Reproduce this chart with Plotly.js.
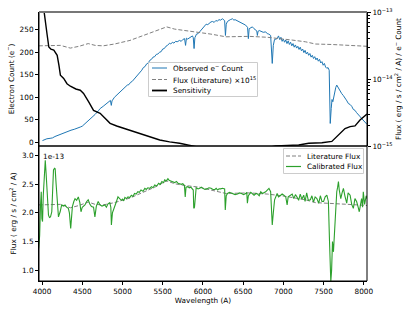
<!DOCTYPE html>
<html>
<head>
<meta charset="utf-8">
<script src="https://cdn.plot.ly/plotly-3.0.1.min.js"></script>
<style>html,body{margin:0;padding:0;background:#fff;}#chart{width:415px;height:312px;}</style>
</head>
<body>
<div id="chart"></div>
<script>
// ---------------- data ----------------
const obsWave = [4005,4030,4060,4100,4130,4160,4200,4250,4300,4340,4360,4400,4440,4475,4500,4540,4580,4620,4660,4700,4722,4760,4800,4830,4850,4861,4870,4900,4940,4969,5000,5020,5040,5060,5080,5100,5120,5140,5160,5180,5200,5220,5240,5260,5280,5300,5320,5340,5360,5380,5400,5420,5440,5463,5480,5500,5520,5540,5560,5586,5600,5620,5640,5660,5680,5710,5730,5750,5772,5784,5795,5810,5830,5850,5870,5880,5890,5900,5920,5940,5957,5980,6000,6020,6040,6060,6080,6100,6120,6140,6160,6180,6200,6220,6242,6260,6270,6280,6290,6305,6320,6340,6368,6385,6400,6420,6440,6465,6491,6510,6530,6555,6565,6575,6595,6615,6635,6650,6670,6677,6685,6700,6720,6750,6780,6800,6820,6842,6862,6875,6890,6923,6940,6955,6970,6985,7000,7015,7030,7045,7060,7075,7090,7105,7120,7135,7150,7165,7180,7195,7210,7225,7240,7255,7270,7285,7300,7315,7330,7345,7360,7375,7390,7405,7420,7435,7450,7465,7480,7495,7510,7525,7541,7555,7570,7583,7595,7605,7615,7625,7640,7652,7664,7678,7690,7705,7726,7745,7760,7775,7790,7809,7830,7850,7870,7891,7910,7930,7950,7973,7990,8005,8020,8040];
const obsCount = [4,6,8,9,10,13,16,20,24,26,27,29,31,34,36,42,50,56,62,70,75,80,86,90,93,82,92,100,107,112,118,121,123,127,128,133,135,139,143,148,151,157,160,166,168,174,176,182,184,189,190,195,196,200,201,207,208,213,215,220,218,222,220,224,223,226,224,228,230,215,231,229,232,233,236,232,208,232,240,241,245,250,255,258,262,261,265,267,268,266,270,269,272,271,274,272,270,237,262,268,270,272,274,271,272,270,268,266,263,262,260,255,230,252,255,256,252,250,247,237,246,248,246,244,245,241,240,237,175,215,228,230,236,228,233,224,229,222,227,219,225,217,222,214,219,211,216,209,213,206,211,203,207,199,204,196,200,193,197,189,193,186,190,183,187,180,184,176,179,171,175,167,164,166,160,42,75,95,90,100,115,122,127,122,120,112,108,104,98,96,92,86,84,80,73,71,66,63,58,53,49,46,42,40];

const litWave = [3960,4006,4100,4228,4352,4460,4574,4660,4759,4900,5093,5250,5401,5549,5650,5772,5957,6100,6286,6574,6800,6981,7100,7274,7400,7599,7800,8040];
const litFlux15 = [214,214,214,215,209,213,219,215,214,218,226,236,245,256,251,248,245,240,234,235,233,230,227,223,218,217,215,213]; // x 1e15

const sensWave = [3960,4000,4022,4045,4064,4084,4110,4146,4188,4210,4228,4269,4310,4352,4420,4475,4516,4578,4640,4722,4784,4846,4928,5010,5093,5216,5340,5463,5586,5710,5854,5950,6100,6300,6500,6700,6904,7050,7191,7315,7479,7603,7685,7767,7830,7891,7953,8015,8040];
const sensVal = [4e-13,1.6e-13,1.0e-13,6.0e-14,4.5e-14,3.0e-14,2.8e-14,2.7e-14,2.26e-14,1.6e-14,1.14e-14,1.02e-14,8.5e-15,7.8e-15,7.1e-15,6.8e-15,6.1e-15,4.6e-15,3.4e-15,3.07e-15,2.58e-15,2.18e-15,1.99e-15,1.85e-15,1.69e-15,1.51e-15,1.35e-15,1.23e-15,1.15e-15,1.10e-15,1.01e-15,0.95e-15,0.88e-15,0.85e-15,0.86e-15,0.9e-15,1.0e-15,1.02e-15,1.035e-15,1.10e-15,1.12e-15,1.17e-15,1.45e-15,1.82e-15,1.95e-15,2.0e-15,2.45e-15,2.9e-15,3.0e-15];

const calWave = [3957,3970,3980,3990,3998,4006,4015,4027,4040,4050,4059,4070,4080,4092,4105,4121,4132,4142,4155,4163,4175,4183,4195,4204,4215,4225,4244,4265,4286,4305,4327,4340,4356,4366,4377,4395,4410,4430,4451,4470,4484,4500,4533,4555,4574,4595,4615,4640,4657,4675,4698,4720,4745,4780,4800,4820,4842,4855,4862,4875,4904,4925,4944,4970,4985,5000,5015,5030,5050,5068,5090,5110,5130,5150,5170,5191,5210,5230,5255,5278,5295,5315,5340,5360,5380,5401,5425,5450,5470,5490,5510,5525,5545,5565,5580,5600,5625,5648,5670,5690,5710,5731,5750,5770,5780,5790,5812,5830,5850,5865,5880,5886,5895,5916,5940,5960,5980,6000,6025,6050,6075,6101,6125,6150,6165,6183,6200,6220,6244,6270,6278,6290,6306,6330,6350,6375,6400,6430,6455,6480,6505,6533,6545,6553,6565,6595,6615,6636,6660,6680,6700,6719,6740,6760,6780,6800,6821,6842,6852,6862,6875,6891,6923,6940,6960,6985,7006,7030,7047,7060,7089,7110,7130,7150,7170,7190,7210,7230,7253,7270,7290,7310,7336,7355,7375,7395,7417,7440,7460,7480,7500,7520,7541,7560,7574,7583,7590,7600,7611,7617,7623,7635,7644,7655,7664,7675,7685,7695,7705,7714,7730,7747,7765,7788,7805,7830,7850,7870,7890,7911,7930,7944,7960,7973,7985,7994,8010,8030,8040];
const calFlux13 = [1.38,1.6,2.1,2.37,1.9,1.85,2.3,2.63,2.92,2.7,2.49,2.2,1.96,1.92,1.93,2.02,2.4,2.75,2.78,2.77,2.5,2.31,2.05,1.93,1.98,2.02,2.14,2.12,2.14,2.10,2.08,2.0,1.73,2.0,2.11,2.2,2.25,2.22,2.28,2.18,2.02,2.1,2.14,2.2,2.23,2.15,2.11,2.1,1.93,2.12,2.20,2.14,2.12,2.14,2.1,2.16,2.18,2.1,1.79,2.0,2.14,2.2,2.28,2.25,2.22,2.24,2.21,2.27,2.25,2.28,2.27,2.31,2.29,2.34,2.33,2.37,2.36,2.40,2.38,2.43,2.41,2.44,2.43,2.46,2.44,2.49,2.47,2.52,2.50,2.55,2.53,2.58,2.56,2.60,2.57,2.56,2.54,2.53,2.55,2.52,2.51,2.50,2.51,2.48,2.28,2.45,2.46,2.44,2.45,2.43,2.4,2.08,2.1,2.44,2.42,2.43,2.45,2.43,2.41,2.42,2.44,2.43,2.41,2.41,2.43,2.40,2.42,2.42,2.43,2.42,2.05,2.3,2.34,2.36,2.35,2.33,2.32,2.33,2.35,2.34,2.32,2.34,2.36,2.17,2.3,2.36,2.33,2.31,2.34,2.33,2.30,2.37,2.34,2.35,2.37,2.4,2.43,2.37,2.1,1.79,2.0,2.23,2.34,2.28,2.3,2.33,2.31,2.28,2.14,2.28,2.31,2.33,2.25,2.32,2.28,2.22,2.33,2.24,2.31,2.2,2.35,2.22,2.23,2.3,2.19,2.28,2.25,2.17,2.3,2.2,2.20,2.28,2.31,2.2,1.50,1.1,0.80,1.0,1.50,1.40,1.32,1.7,2.02,2.2,2.37,2.45,2.55,2.4,2.3,2.25,2.35,2.43,2.3,2.17,2.35,2.31,2.15,2.08,2.25,2.20,2.1,2.02,2.15,2.25,2.1,2.37,2.15,2.3,2.25];

const xTicks = [4000,4500,5000,5500,6000,6500,7000,7500,8000];
const countTicks = [0,50,100,150,200,250];
const fluxTicks = [1.0,1.5,2.0,2.5,3.0];
const sensTicks = [1e-15,1e-14,1e-13];
const sensTickText = ['10<sup>−15</sup>','10<sup>−14</sup>','10<sup>−13</sup>'];
const sensMinor = [2e-15,3e-15,4e-15,5e-15,6e-15,7e-15,8e-15,9e-15,2e-14,3e-14,4e-14,5e-14,6e-14,7e-14,8e-14,9e-14];

// ---------------- geometry helpers ----------------
const W = 415, H = 312, ML = 39, MR = 48, MT = 12, MB = 31;
const PW = W - ML - MR, PH = H - MT - MB;
const px = x => (x - ML) / PW;
const py = y => (H - MB - y) / PH;
const SPLIT = py(146);

const FONT = {family: 'DejaVu Sans, Verdana, sans-serif', size: 7.3, color: '#000'};
const BLUE = '#1f77b4', GREEN = '#2ca02c', GREY = '#808080';

const litFlux13 = litFlux15.map(v => v / 100);

const traces = [
  {x: obsWave, y: obsCount, xaxis: 'x', yaxis: 'y2', type: 'scatter', mode: 'lines',
   line: {color: BLUE, width: 1}, name: 'Observed e⁻ Count', showlegend: false},
  {x: litWave, y: litFlux15, xaxis: 'x', yaxis: 'y2', type: 'scatter', mode: 'lines',
   line: {color: GREY, width: 1, dash: '4px,2px'}, name: 'Flux (Literature) ×10¹⁵', showlegend: false},
  {x: sensWave, y: sensVal, xaxis: 'x', yaxis: 'y3', type: 'scatter', mode: 'lines',
   line: {color: '#000', width: 1.4}, name: 'Sensitivity', showlegend: false},
  {x: litWave, y: litFlux13, xaxis: 'x', yaxis: 'y', type: 'scatter', mode: 'lines',
   line: {color: GREY, width: 1, dash: '4px,2px'}, name: 'Literature Flux', showlegend: false},
  {x: calWave, y: calFlux13, xaxis: 'x', yaxis: 'y', type: 'scatter', mode: 'lines',
   line: {color: GREEN, width: 1.1}, name: 'Calibrated Flux', showlegend: false}
];

// manual legends (matplotlib-like compact boxes)
function legend(box, rows) {
  const shapes = [{type: 'rect', xref: 'paper', yref: 'paper',
    x0: px(box[0]), x1: px(box[2]), y0: py(box[3]), y1: py(box[1]),
    fillcolor: 'rgba(255,255,255,0.85)', line: {color: '#cccccc', width: 1}, layer: 'above'}];
  const anns = [];
  rows.forEach(r => {
    shapes.push({type: 'line', xref: 'paper', yref: 'paper', x0: px(r.x0), x1: px(r.x1), y0: py(r.y), y1: py(r.y),
      line: r.line, layer: 'above'});
    anns.push({xref: 'paper', yref: 'paper', x: px(r.tx), y: py(r.y), xanchor: 'left', yanchor: 'middle',
      text: r.text, showarrow: false, font: FONT});
  });
  return {shapes, anns};
}
const lg1 = legend([148.5, 62.5, 257.5, 96.5], [
  {x0: 152, x1: 167, tx: 170.5, y: 68, text: 'Observed e<sup>−</sup> Count', line: {color: BLUE, width: 1}},
  {x0: 152, x1: 167, tx: 170.5, y: 79.5, text: 'Flux (Literature) ×10<sup>15</sup>', line: {color: GREY, width: 1, dash: '4px,2px'}},
  {x0: 152, x1: 167, tx: 170.5, y: 90.5, text: 'Sensitivity', line: {color: '#000', width: 1.8}}
]);
const lg2 = legend([283.5, 148.5, 363.5, 173.5], [
  {x0: 286, x1: 301, tx: 305, y: 156, text: 'Literature Flux', line: {color: GREY, width: 1, dash: '4px,2px'}},
  {x0: 286, x1: 301, tx: 305, y: 166.5, text: 'Calibrated Flux', line: {color: GREEN, width: 1.2}}
]);

const frame = [
  {type: 'rect', xref: 'paper', yref: 'paper', x0: 0, x1: 1, y0: 0, y1: SPLIT, line: {color: '#000', width: 1}, layer: 'above'},
  {type: 'rect', xref: 'paper', yref: 'paper', x0: 0, x1: 1, y0: SPLIT, y1: 1, line: {color: '#000', width: 1}, layer: 'above'},
  {type: 'line', xref: 'paper', yref: 'paper', x0: 0, x1: 1, y0: 1, y1: 1, line: {color: '#777', width: 2}, layer: 'above'}
];

const axisCommon = {showgrid: false, zeroline: false, ticks: 'outside', ticklen: 3, tickwidth: 1,
  tickcolor: '#000', showline: true, linecolor: '#000', linewidth: 1, tickfont: FONT};

const layout = {
  width: W, height: H,
  margin: {l: ML, r: MR, t: MT, b: MB, pad: 0},
  paper_bgcolor: '#fff', plot_bgcolor: '#fff',
  font: FONT,
  showlegend: false,
  xaxis: Object.assign({}, axisCommon, {
    domain: [0, 1], anchor: 'y', range: [3962, 8040],
    tickmode: 'array', tickvals: xTicks, ticktext: xTicks.map(String),
    title: {text: 'Wavelength (A)', font: FONT, standoff: 3}
  }),
  yaxis: Object.assign({}, axisCommon, {
    domain: [0, SPLIT], anchor: 'x', range: [0.81, 3.17],
    tickmode: 'array', tickvals: fluxTicks, ticktext: fluxTicks.map(v => v.toFixed(1)),
    title: {text: 'Flux ( erg / s / cm<sup>2</sup> / A)', font: FONT, standoff: 4}
  }),
  yaxis2: Object.assign({}, axisCommon, {
    domain: [SPLIT, 1], anchor: 'x', range: [-8, 289],
    tickmode: 'array', tickvals: countTicks, ticktext: countTicks.map(String),
    title: {text: 'Electron Count (e<sup>−</sup>)', font: FONT, standoff: 4}
  }),
  yaxis3: Object.assign({}, axisCommon, {
    overlaying: 'y2', side: 'right', anchor: 'x', type: 'log', range: [-15, -13],
    tickmode: 'array', tickvals: sensTicks, ticktext: sensTickText,
    minor: {tickmode: 'array', tickvals: sensMinor, ticks: 'outside', ticklen: 2, tickcolor: '#000', tickwidth: 1},
    title: {text: 'Flux ( erg / s / cm<sup>2</sup> / A) / e<sup>−</sup> Count', font: FONT, standoff: 2}
  }),
  shapes: frame.concat(lg1.shapes, lg2.shapes),
  annotations: [
    {xref: 'paper', yref: 'paper', x: px(41), y: py(156.5), xanchor: 'left', yanchor: 'middle',
     text: '1e-13', showarrow: false, font: FONT}
  ].concat(lg1.anns, lg2.anns)
};

Plotly.newPlot('chart', traces, layout, {staticPlot: true, displayModeBar: false});
</script>
</body>
</html>
